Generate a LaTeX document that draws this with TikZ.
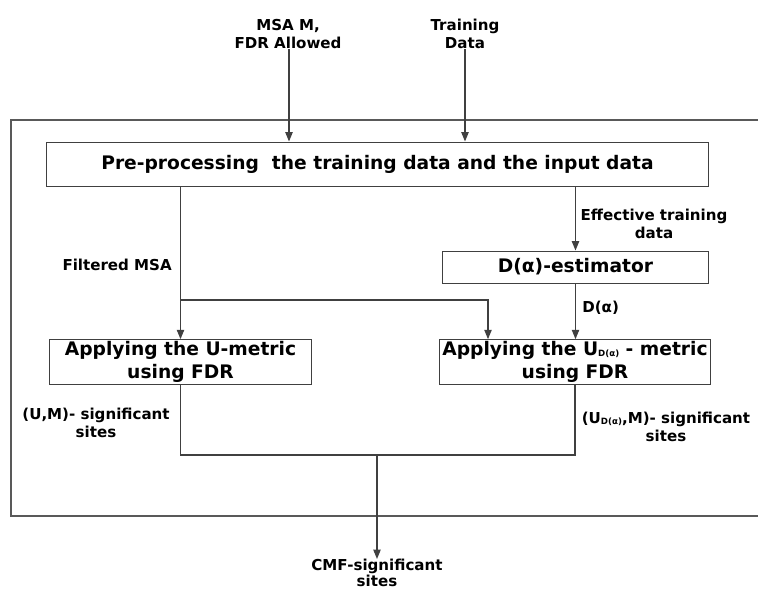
\documentclass[tikz,border=0pt]{standalone}
\usepackage{fontspec}
\setmainfont{DejaVu Sans}
\usepackage{tikz}
\usetikzlibrary{arrows.meta,positioning,calc}

\newcommand{\udsub}{U\raisebox{-0.3pt}{\fontsize{6.5}{7}\selectfont D(α)}}

\begin{document}
\begin{tikzpicture}[x=0.75pt,y=-0.75pt,
    box/.style={draw=black!75, line width=0.75pt, fill=white, align=center, inner sep=0pt,
                font=\fontsize{14}{17}\selectfont\bfseries},
    lbl/.style={font=\fontsize{11.3}{13.5}\selectfont\bfseries, align=center, inner sep=0pt},
    conn/.style={draw=black!75, line width=0.9pt},
    arr/.style={conn, -{Triangle[length=7pt,width=5.5pt]}},
    frame/.style={draw=black!65, line width=1.6pt}]
    \useasboundingbox (0,0) rectangle (758,590);

    % Outer frame (open on the right)
    \draw[frame] (775,120) -- (11,120) -- (11,516) -- (775,516);

    % Inputs
    \node[lbl] (msa) at (288,34) {MSA M,\\FDR Allowed};
    \node[lbl] (train) at (465,34) {Training\\Data};

    % Boxes
    \node[box, minimum width=497pt, minimum height=33pt] (pre) at (377.5,164)
        {Pre-processing\ \ the training data and the input data};
    \node[box, minimum width=199pt, minimum height=24pt] (dest) at (575.5,267) {D(α)-estimator};
    \node[box, minimum width=197pt, minimum height=33.5pt] (ubox) at (180.5,362)
        {Applying the U-metric\\using FDR};
    \node[box, minimum width=203pt, minimum height=33.5pt] (udbox) at (575,362)
        {Applying the \udsub{} - metric\\using FDR};

    % Helper points
    \coordinate (split) at (180,300);
    \coordinate (join) at (377,455);

    % Input arrows
    \draw[arr] (msa.south -| 289,0) -- (pre.north -| 289,0);
    \draw[arr] (train.south) -- (pre.north -| train.south);

    % Pre-processing outputs
    \draw[arr] (pre.south -| ubox.north) -- (ubox.north);
    \draw[arr] (split) -| ($(udbox.north)+(-87,0)$);
    \draw[arr] (pre.south -| dest.north) -- (dest.north);
    \draw[arr] (dest.south) -- (udbox.north -| dest.south);

    % Merge to output
    \node[lbl, anchor=north, font=\fontsize{11.3}{12}\selectfont\bfseries] (cmf) at (377,559)
        {CMF-significant\\sites};
    \draw[conn] (ubox.south) |- (udbox.south |- join) -- (udbox.south);
    \draw[arr] (join) -- (cmf.north);

    % Labels
    \node[lbl] (eff) at (654,224) {Effective training\\data};
    \node[lbl, anchor=east] (filt) at (172,265) {Filtered MSA};
    \node[lbl, anchor=west] (dal) at (582,308) {D(α)};
    \node[lbl] (um) at (96,423) {(U,M)- significant\\sites};
    \node[lbl] (udm) at (666,427) {(\udsub,M)- significant\\sites};

\end{tikzpicture}
\end{document}
